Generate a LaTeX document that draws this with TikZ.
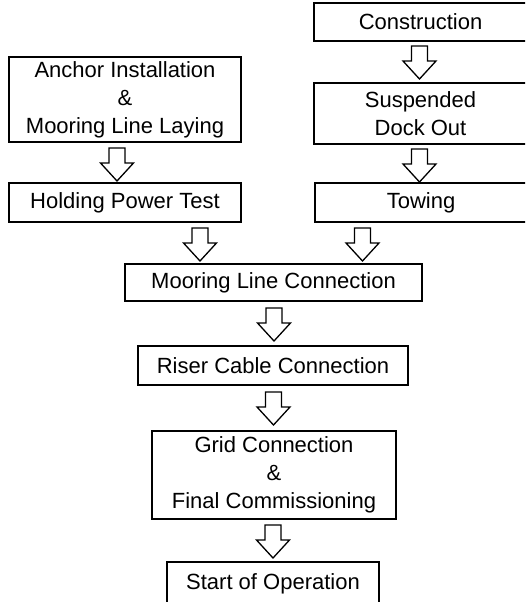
\documentclass[tikz,border=0pt]{standalone}
\usepackage{fontspec}
\setmainfont{Liberation Sans}
\begin{document}
\begin{tikzpicture}[x=1pt,y=-1pt,
  box/.style={draw=black, line width=1.3pt, inner sep=0pt, align=center,
    font=\fontsize{22}{28}\selectfont},
  blockarrow/.style={draw=black, fill=white, line width=1.3pt, line join=miter}]
\clip (0,0) rectangle (525,602);
\newcommand\boxat[6]{% name, x1, y1, x2, y2, text
  \node[box, minimum width={#4-#2}, minimum height={#5-#3}] (#1) at ({(#2+#4)/2},{(#3+#5)/2}) {#6};}
\boxat{constr}{314}{3}{527}{41}{Construction}
\boxat{susp}{314}{83}{527}{144}{Suspended\\Dock Out}
\boxat{tow}{315}{183}{527}{222}{Towing}
\boxat{anchor}{9}{57}{241}{142}{Anchor Installation\\\&\\Mooring Line Laying}
\boxat{hold}{9}{183}{241}{222}{Holding Power Test}
\boxat{moor}{125}{264}{422}{301}{Mooring Line Connection}
\boxat{riser}{138}{346}{408}{385}{Riser Cable Connection}
\boxat{grid}{152}{431}{396}{519}{Grid Connection\\\&\\Final Commissioning}
\boxat{start}{167}{562}{379}{605}{Start of Operation}
\newcommand\blockarr[1]{\draw[blockarrow] (#1) ++(-8,0) -- ++(16,0) -- ++(0,15) -- ++(8.5,0) -- ++(-16.5,18) -- ++(-16.5,-18) -- ++(8.5,0) -- cycle;}
\coordinate (a1) at (419.5,46);
\coordinate (a2) at (419.5,149);
\coordinate (a3) at (117,148);
\coordinate (a4) at (200,228);
\coordinate (a5) at (362.5,228);
\coordinate (a6) at (274,308);
\coordinate (a7) at (273.5,392);
\coordinate (a8) at (273,525);
\blockarr{a1}
\blockarr{a2}
\blockarr{a3}
\blockarr{a4}
\blockarr{a5}
\blockarr{a6}
\blockarr{a7}
\blockarr{a8}
\end{tikzpicture}
\end{document}
